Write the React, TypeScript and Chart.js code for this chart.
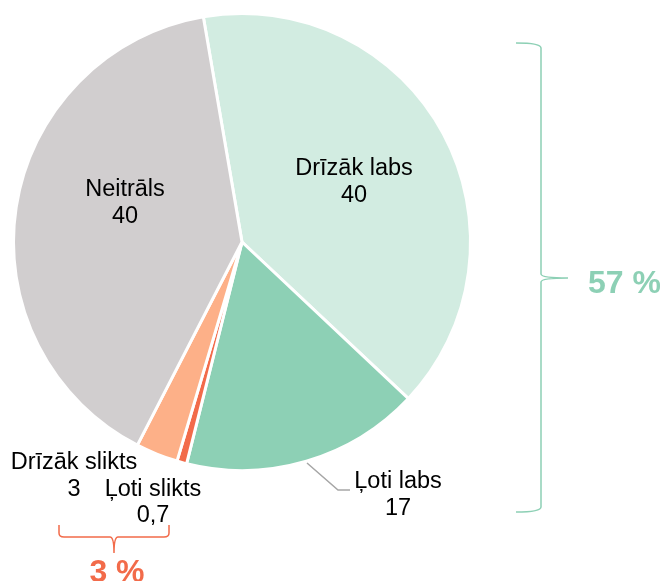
import React, { useEffect, useRef } from "react";
import { Chart, registerables } from "chart.js";

Chart.register(...registerables);

const categories = ["Drīzāk labs", "Ļoti labs", "Ļoti slikts", "Drīzāk slikts", "Neitrāls"];
const values = [40, 17, 0.7, 3, 40];
const valueLabels = ["40", "17", "0,7", "3", "40"];
const colors = ["#d2ece1", "#8dd0b5", "#f26b4a", "#fdb088", "#d1cecf"];
const groupLabels = ["57 %", "3 %"];
const groupColors = ["#8dd0b5", "#f26b4a"];

const FONT = '"Liberation Sans", Arial, sans-serif';

const labelPlugin = {
  id: "customLabels",
  afterDraw(chart: any) {
    const ctx = chart.ctx as CanvasRenderingContext2D;
    const arc = chart.getDatasetMeta(0).data[0] as any;
    const cx = arc.x;
    const cy = arc.y;
    ctx.save();
    ctx.fillStyle = "#000";
    ctx.font = "23.5px " + FONT;
    ctx.textAlign = "center";
    ctx.textBaseline = "middle";
    const two = (i: number, x: number, y: number) => {
      ctx.fillText(categories[i], x, y);
      ctx.fillText(valueLabels[i], x, y + 27);
    };
    two(0, cx + 112, cy - 73);
    two(4, cx - 117, cy - 52);
    two(1, cx + 156, cy + 240);
    // Drīzāk slikts
    ctx.fillText(categories[3], cx - 168, cy + 221);
    ctx.fillText(valueLabels[3], cx - 168, cy + 248);
    // Ļoti slikts
    ctx.fillText(categories[2], cx - 89, cy + 248);
    ctx.fillText(valueLabels[2], cx - 89, cy + 274);

    // leader line for Ļoti labs
    ctx.strokeStyle = "#a6a6a6";
    ctx.lineWidth = 1.5;
    ctx.beginPath();
    ctx.moveTo(cx + 65, cy + 221);
    ctx.lineTo(cx + 96, cy + 248);
    ctx.lineTo(cx + 108, cy + 248);
    ctx.stroke();

    // right bracket
    ctx.strokeStyle = groupColors[0];
    ctx.lineWidth = 1.5;
    const bx = cx + 299;
    const top = cy - 199;
    const bot = cy + 270;
    const mid = cy + 36;
    ctx.beginPath();
    ctx.moveTo(bx - 25, top);
    ctx.quadraticCurveTo(bx, top, bx, top + 5);
    ctx.lineTo(bx, mid - 4);
    ctx.quadraticCurveTo(bx, mid, bx + 27, mid);
    ctx.quadraticCurveTo(bx, mid, bx, mid + 4);
    ctx.lineTo(bx, bot - 5);
    ctx.quadraticCurveTo(bx, bot, bx - 25, bot);
    ctx.stroke();
    ctx.fillStyle = groupColors[0];
    ctx.font = "bold 32px " + FONT;
    ctx.textAlign = "left";
    ctx.fillText(groupLabels[0], cx + 346, mid + 6);

    // bottom bracket
    ctx.strokeStyle = groupColors[1];
    const lx = cx - 183;
    const rx = cx - 73;
    const by = cy + 295;
    const mx = (lx + rx) / 2;
    ctx.beginPath();
    ctx.moveTo(lx, by - 12);
    ctx.lineTo(lx, by - 4);
    ctx.quadraticCurveTo(lx, by, lx + 5, by);
    ctx.lineTo(mx - 4, by);
    ctx.quadraticCurveTo(mx, by, mx, by + 16);
    ctx.quadraticCurveTo(mx, by, mx + 4, by);
    ctx.lineTo(rx - 5, by);
    ctx.quadraticCurveTo(rx, by, rx, by - 4);
    ctx.lineTo(rx, by - 12);
    ctx.stroke();
    ctx.fillStyle = groupColors[1];
    ctx.textAlign = "center";
    ctx.fillText(groupLabels[1], mx + 3, by + 36);
    ctx.restore();
  },
};

export default function App() {
  const ref = useRef<HTMLCanvasElement | null>(null);
  useEffect(() => {
    if (!ref.current) return;
    const chart = new Chart(ref.current, {
      type: "pie",
      data: {
        labels: categories,
        datasets: [
          {
            data: values,
            backgroundColor: colors,
            borderColor: "#ffffff",
            borderWidth: 3,
          },
        ],
      },
      options: {
        animation: false,
        responsive: false,
        rotation: -9.75,
        layout: { padding: { left: 12, top: 12, right: 188, bottom: 109 } },
        plugins: { legend: { display: false }, tooltip: { enabled: false } },
      },
      plugins: [labelPlugin],
    });
    return () => chart.destroy();
  }, []);
  return (
    <div style={{ position: "fixed", left: 0, top: 0, width: 660, height: 581, background: "#fff" }}>
      <canvas ref={ref} width={660} height={581} />
    </div>
  );
}
